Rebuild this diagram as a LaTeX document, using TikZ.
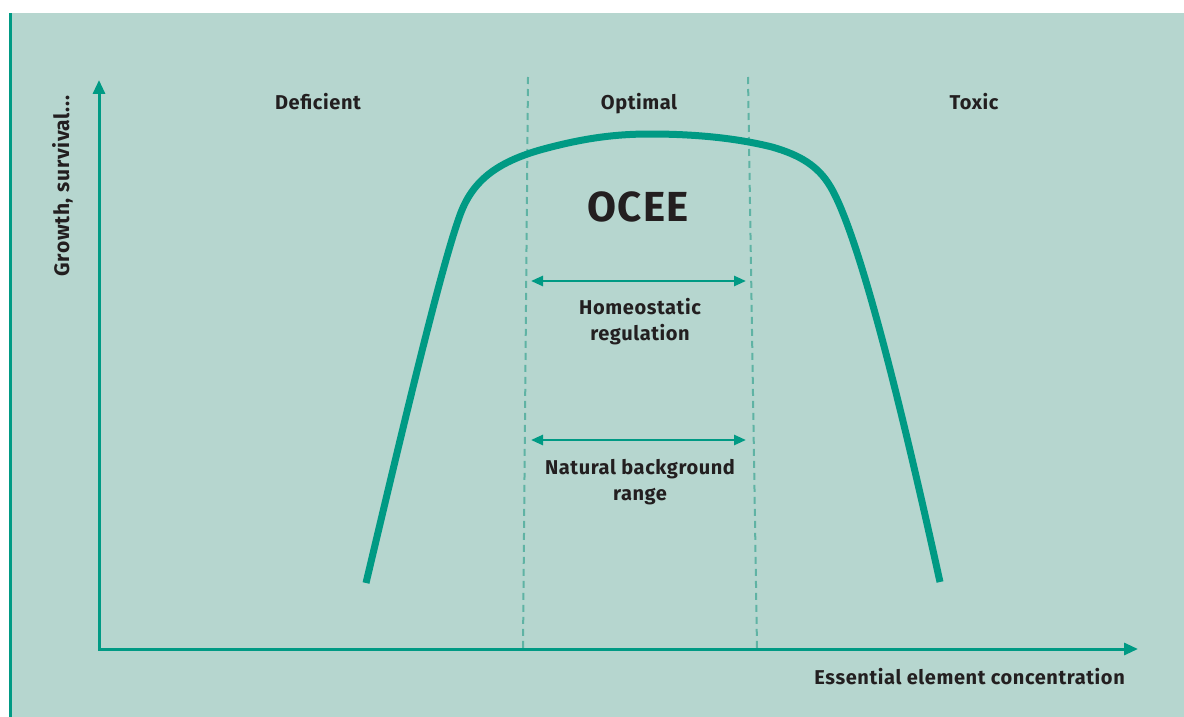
\documentclass[tikz,border=0pt]{standalone}
\usepackage{fontspec}
\setmainfont[LetterSpace=3]{Fira Sans}
\usetikzlibrary{arrows.meta}
\definecolor{bgc}{HTML}{B6D6CF}
\definecolor{teal1}{HTML}{009A84}
\definecolor{dashc}{HTML}{5FB3A4}
\definecolor{txt}{HTML}{231F20}
\begin{document}
\begin{tikzpicture}[x=1pt,y=-1pt,
  lbl/.style={font=\fontsize{20}{26}\selectfont\bfseries, text=txt, inner sep=0pt, align=center, anchor=base},
  axis/.style={draw=teal1, line width=3pt, -{Triangle[length=14pt,width=12pt]}},
  span/.style={draw=teal1, line width=2.6pt, {Triangle[length=12pt,width=10pt]}-{Triangle[length=12pt,width=10pt]}},
  bound/.style={draw=dashc, line width=2pt, dash pattern=on 7pt off 5pt},
  curve/.style={draw=teal1, line width=7pt}]
\useasboundingbox (0,0) rectangle (1184,717);
\fill[bgc] (9,13) rectangle (1184,717);
\fill[teal1] (9,13) rectangle (12,717);
% boundaries
\coordinate (lt) at (528,77); \coordinate (lb) at (523,648);
\coordinate (rt) at (748,77); \coordinate (rb) at (757,648);
\draw[bound] (lt) -- (lb);
\draw[bound] (rt) -- (rb);
% axes
\coordinate (O) at (99,649);
\coordinate (ytip) at (99,80);
\coordinate (xtip) at (1138,649);
\draw[axis, line cap=rect] (O) -- (ytip);
\draw[axis] (O) -- (xtip);
% curve
\draw[curve] (366,583) .. controls (400,440) and (440,270) .. (460,215)
  .. controls (472,182) and (495,163) .. (540,150)
  .. controls (580,139) and (612,134) .. (650,134)
  .. controls (700,134) and (740,139) .. (772,147)
  .. controls (800,155) and (818,166) .. (830,186)
  .. controls (858,232) and (900,400) .. (940,582);
% labels
\node[lbl] (def) at (318,110) {Deficient};
\node[lbl] (opt) at (639,110) {Optimal};
\node[lbl] (tox) at (974,110) {Toxic};
\node[lbl, font=\fontsize{42}{46}\selectfont\bfseries] (ocee) at (638,221) {OCEE};
\node[lbl] (homeo) at (640,340) {Homeostatic\\regulation};
\node[lbl] (nat) at (640,500) {Natural background\\range};
\node[lbl, anchor=base east] (xl) at (1125,684) {Essential element concentration};
\node[lbl, rotate=90, anchor=base, font=\fontsize{21}{26}\selectfont\bfseries] (yl) at (69,186) {Growth, survival...};
% span arrows
\coordinate (h1) at (531,281); \coordinate (h2) at (746,281);
\coordinate (n1) at (531,440); \coordinate (n2) at (746,440);
\draw[span] (h1) -- (h2);
\draw[span] (n1) -- (n2);
\end{tikzpicture}
\end{document}
